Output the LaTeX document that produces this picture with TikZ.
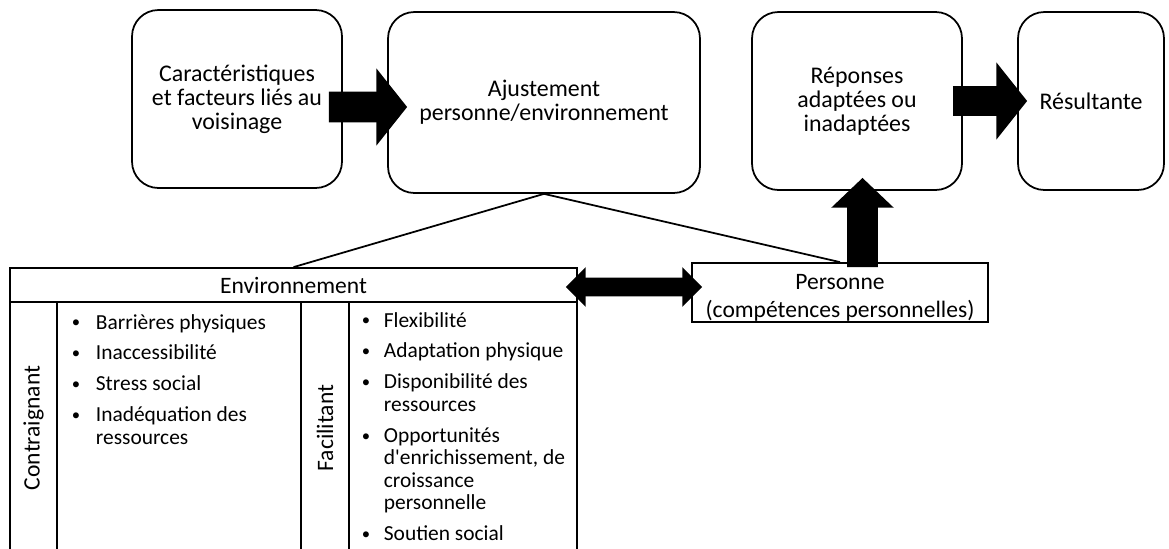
\documentclass[tikz,border=0pt]{standalone}
\usepackage{fontspec}
\setmainfont{Carlito}
\usetikzlibrary{arrows.meta}
\newcommand{\blt}{\raisebox{0.1ex}{\scalebox{0.78}{\textbullet}}}

\begin{document}
\begin{tikzpicture}[x=0.02cm,y=-0.02cm,line width=1pt]
    \tikzstyle{rbox}=[draw,rounded corners=15pt,align=center,minimum width=4.2cm,minimum height=3.56cm,font=\fontsize{13.6}{13.6}\selectfont]
    \tikzstyle{sbox}=[draw,inner sep=0,font=\fontsize{13.4}{13.4}\selectfont]
    \tikzstyle{lst}=[inner sep=0,anchor=base west,font=\fontsize{12.2}{12.8}\selectfont]
    \tikzstyle{bigarrow}=[line width=17.5pt,-{Triangle[length=17.5pt,width=43pt]}]
    \tikzstyle{uparrow}=[line width=17.5pt,-{Triangle[length=17pt,width=34.6pt]}]
    \tikzstyle{dblarrow}=[line width=10.8pt,{Triangle[length=11.3pt,width=22pt]}-{Triangle[length=11.3pt,width=22pt]}]

    \useasboundingbox (0,0) rectangle (1169,548);

    \node[rbox](car) at (237,99) {Caractéristiques\\et facteurs liés au\\voisinage};
    \node[rbox,minimum width=6.24cm,minimum height=3.62cm](aju) at (544,102.5) {Ajustement\\personne/environnement};
    \node[rbox](rep) at (857,101) {Réponses\\adaptées ou\\inadaptées};
    \node[rbox,minimum width=2.92cm](res) at (1091,101) {Résultante};

    \node[sbox,minimum width=11.34cm,minimum height=0.68cm](env) at (293.5,285) {Environnement};
    \node[sbox,rotate=90,minimum width=5.04cm,minimum height=0.94cm](con) at (33.5,428) {Contraignant};
    \node[sbox,minimum width=4.88cm,minimum height=5.04cm](conbox) at (179,428) {};
    \node[sbox,rotate=90,minimum width=5.04cm,minimum height=0.96cm](fac) at (325,428) {Facilitant};
    \node[sbox,minimum width=4.56cm,minimum height=5.04cm](facbox) at (463,428) {};
    \node[sbox,minimum width=5.92cm,minimum height=1.18cm,align=center,font=\fontsize{13.4}{15.9}\selectfont](per) at (840,292.5) {\rule{0pt}{15pt}Personne\\(compétences personnelles)};

    \node[lst](conlist) at (71,329) {\begin{tabular}[t]{@{}p{0.48cm}@{}l@{}}
      \blt & Barrières physiques\\[4.8pt]
      \blt & Inaccessibilité\\[4.8pt]
      \blt & Stress social\\[4.8pt]
      \blt & Inadéquation des\\
           & ressources
    \end{tabular}};
    \node[lst](faclist) at (361,327) {\begin{tabular}[t]{@{}p{0.44cm}@{}l@{}}
      \blt & Flexibilité\\[4.8pt]
      \blt & Adaptation physique\\[4.8pt]
      \blt & Disponibilité des\\
           & ressources\\[4.8pt]
      \blt & Opportunités\\
           & d\textquotesingle enrichissement, de\\
           & croissance\\
           & personnelle\\[4.8pt]
      \blt & Soutien social
    \end{tabular}};

    \draw (aju.south) -- (env.north);
    \draw (aju.south) -- (per.north);

    \draw[bigarrow] ([xshift=-0.28cm,yshift=-0.16cm]car.east) -- ([xshift=0.4cm,yshift=-0.09cm]aju.west);
    \draw[bigarrow] ([xshift=-0.2cm]rep.east) -- ([xshift=0.2cm]res.west);
    \draw[uparrow] ([xshift=0.45cm,yshift=-0.1cm]per.north) -- ([xshift=0.11cm,yshift=0.26cm]rep.south);
    \draw[dblarrow] ([xshift=-0.24cm,yshift=-0.04cm]env.east) -- ([xshift=0.22cm,yshift=0.11cm]per.west);
  \end{tikzpicture}
\end{document}
